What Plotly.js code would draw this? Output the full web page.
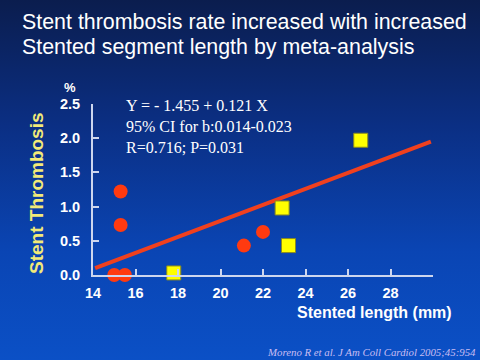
<!DOCTYPE html>
<html>
<head>
<meta charset="utf-8">
<script src="https://cdn.plot.ly/plotly-3.0.1.min.js"></script>
<style>
html,body{margin:0;padding:0;width:480px;height:360px;overflow:hidden;}
body{background:linear-gradient(to bottom,#0b1d4e 0%,#0b2f84 35%,#0a45b4 70%,#0b50c6 100%);}
#chart{width:480px;height:360px;}
</style>
</head>
<body>
<div id="chart"></div>
<script>
// Data
const bmsX = [15.3, 15.3, 15.0, 15.5, 21.1, 22.0];
const bmsY = [1.22, 0.73, 0.0, 0.0, 0.43, 0.63];
const desX = [17.8, 22.9, 23.2, 26.6];
const desY = [0.03, 0.98, 0.43, 1.97];
const fitX = [14.1, 29.9];
const fitY = [0.10, 1.95];
const xTicks = [14, 16, 18, 20, 22, 24, 26, 28];
const yTicks = [0.0, 0.5, 1.0, 1.5, 2.0, 2.5];
const titleLines = ["Stent thrombosis rate increased with increased", "Stented segment length by meta-analysis"];
const eqLines = ["Y = - 1.455 + 0.121 X", "95% CI for b:0.014-0.023", "R=0.716; P=0.031"];
const xTitle = "Stented length (mm)";
const yTitle = "Stent Thrombosis";
const yUnit = "%";
const citation = "Moreno R et al. J Am Coll Cardiol 2005;45:954";

const sans = "Liberation Sans, Arial, sans-serif";
const serif = "Liberation Serif, Times New Roman, serif";

const traces = [
  {x: fitX, y: fitY, mode: 'lines', line: {color: '#f0401e', width: 4}, hoverinfo: 'skip', cliponaxis: false},
  {x: bmsX, y: bmsY, mode: 'markers', marker: {symbol: 'circle', size: 14, color: '#ff3a10'}, cliponaxis: false},
  {x: desX, y: desY, mode: 'markers', marker: {symbol: 'square', size: 14, color: '#ffff00', line: {color: '#8a8a20', width: 1}}, cliponaxis: false}
];

const annotations = [];
eqLines.forEach((t, i) => annotations.push({
  xref: 'paper', yref: 'paper', x: (124 - 93) / 340, y: 1 - (105 + i * 21 - 103.5) / 172,
  xanchor: 'left', yanchor: 'middle', showarrow: false, text: t,
  font: {family: serif, size: 16, color: '#ffffff'}
}));
annotations.push({xref: 'paper', yref: 'paper', x: (374.5 - 93) / 340, y: -(313 - 275.5) / 172,
  xanchor: 'center', yanchor: 'middle', showarrow: false, text: xTitle,
  font: {family: sans, size: 16, color: '#ffffff', weight: 'bold'}});
annotations.push({xref: 'paper', yref: 'paper', x: -(93 - 37) / 340, y: 1 - (193 - 103.5) / 172,
  xanchor: 'center', yanchor: 'middle', showarrow: false, text: yTitle, textangle: -90,
  font: {family: sans, size: 19, color: '#f2ea78', weight: 'bold'}});
annotations.push({xref: 'paper', yref: 'paper', x: -(93 - 70) / 340, y: 1 + (103.5 - 87) / 172,
  xanchor: 'center', yanchor: 'middle', showarrow: false, text: yUnit,
  font: {family: sans, size: 13, color: '#ffffff', weight: 'bold'}});
annotations.push({xref: 'paper', yref: 'paper', x: (478 - 93) / 340, y: -(353 - 275.5) / 172,
  xanchor: 'right', yanchor: 'middle', showarrow: false, text: '<i>' + citation + '</i>',
  font: {family: serif, size: 10.8, color: '#c9bdf2'}});
titleLines.forEach((t, i) => annotations.push({
  xref: 'paper', yref: 'paper', x: (20 - 93) / 340, y: 1 + (103.5 - (21 + i * 25)) / 172,
  xanchor: 'left', yanchor: 'middle', showarrow: false, text: t,
  font: {family: sans, size: 21.4, color: '#ffffff'}
}));

const layout = {
  width: 480, height: 360,
  paper_bgcolor: 'rgba(0,0,0,0)', plot_bgcolor: 'rgba(0,0,0,0)',
  margin: {l: 93, r: 47, t: 103.5, b: 84.5, pad: 0},
  showlegend: false,
  xaxis: {range: [14, 30], tickvals: xTicks, ticktext: xTicks.map(String), showgrid: false, zeroline: false,
    showline: true, linecolor: '#cdd6ee', linewidth: 2, ticks: 'inside', ticklen: 6, tickwidth: 2, tickcolor: '#cdd6ee',
    tickfont: {family: sans, size: 14.5, color: '#ffffff', weight: 'bold'}, ticklabelstandoff: 4, fixedrange: true},
  yaxis: {range: [0, 2.5], tickvals: yTicks, ticktext: yTicks.map(v => v.toFixed(1)), showgrid: false, zeroline: false,
    showline: true, linecolor: '#cdd6ee', linewidth: 2, ticks: 'inside', ticklen: 6, tickwidth: 2, tickcolor: '#cdd6ee',
    tickfont: {family: sans, size: 14.5, color: '#ffffff', weight: 'bold'}, ticklabelstandoff: 8, fixedrange: true},
  annotations: annotations
};

Plotly.newPlot('chart', traces, layout, {displayModeBar: false, staticPlot: true});
</script>
</body>
</html>
